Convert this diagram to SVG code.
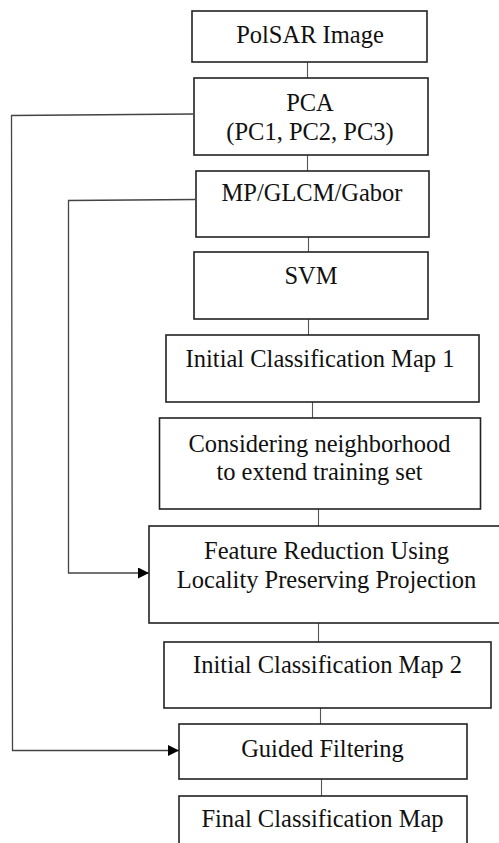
<svg xmlns="http://www.w3.org/2000/svg" width="499" height="843" viewBox="0 0 499 843">
<defs>
<style>
.box{fill:#fff;stroke:#222;stroke-width:1.6}
.t{font-family:"Liberation Serif","Times New Roman",serif;font-size:24.5px;fill:#111;text-anchor:middle}
.c{fill:none;stroke:#555;stroke-width:1.1}
.l{fill:none;stroke:#444;stroke-width:1.3}
</style>
<marker id="ah" viewBox="0 0 11 11" refX="11" refY="5.5" markerWidth="11" markerHeight="11" markerUnits="userSpaceOnUse" orient="auto">
<path d="M0,0 L11,5.5 L0,11 Z" fill="#000"/>
</marker>
</defs>
<rect width="499" height="843" fill="#fff"/>
<g id="connectors">
<line class="c" x1="307.5" y1="62" x2="307.5" y2="78"/>
<line class="c" x1="307.5" y1="155" x2="307.5" y2="171"/>
<line class="c" x1="308.5" y1="237" x2="308.5" y2="252"/>
<line class="c" x1="308.5" y1="319" x2="308.5" y2="335"/>
<line class="c" x1="312.5" y1="402" x2="312.5" y2="418"/>
<line class="c" x1="318.5" y1="509" x2="318.5" y2="526"/>
<line class="c" x1="318.5" y1="623" x2="318.5" y2="642"/>
<line class="c" x1="320.5" y1="708" x2="320.5" y2="724"/>
<line class="c" x1="321.5" y1="779" x2="321.5" y2="796"/>
<polyline class="l" points="193,114 11.5,115.5 12.5,750.5 179,750.5" marker-end="url(#ah)"/>
<polyline class="l" points="195,199.5 68.5,200.5 68.5,573 149,573" marker-end="url(#ah)"/>
</g>
<g id="polsar">
<rect class="box" x="192" y="11" width="235" height="51"/>
<text class="t" x="310" y="43">PolSAR Image</text>
</g>
<g id="pca">
<rect class="box" x="194" y="78" width="234" height="77"/>
<text class="t" x="310" y="111">PCA</text>
<text class="t" x="310" y="140">(PC1, PC2, PC3)</text>
</g>
<g id="features">
<rect class="box" x="196" y="171" width="233" height="66"/>
<text class="t" x="312" y="201">MP/GLCM/Gabor</text>
</g>
<g id="svm">
<rect class="box" x="194" y="252" width="234" height="67"/>
<text class="t" x="311" y="284">SVM</text>
</g>
<g id="icm1">
<rect class="box" x="166" y="335" width="313" height="67"/>
<text class="t" x="320" y="367">Initial Classification Map 1</text>
</g>
<g id="neighborhood">
<rect class="box" x="159.5" y="418" width="321" height="91"/>
<text class="t" x="319.5" y="452">Considering neighborhood</text>
<text class="t" x="319.5" y="480">to extend training set</text>
</g>
<g id="lpp">
<rect class="box" x="149" y="526" width="360" height="97"/>
<text class="t" x="326.5" y="559">Feature Reduction Using</text>
<text class="t" x="326.5" y="588">Locality Preserving Projection</text>
</g>
<g id="icm2">
<rect class="box" x="164" y="642" width="327" height="66"/>
<text class="t" x="327.5" y="673">Initial Classification Map 2</text>
</g>
<g id="guided">
<rect class="box" x="179" y="724" width="288" height="55"/>
<text class="t" x="322.5" y="757">Guided Filtering</text>
</g>
<g id="final">
<rect class="box" x="179" y="796" width="288" height="60"/>
<text class="t" x="322.5" y="827">Final Classification Map</text>
</g>
</svg>
